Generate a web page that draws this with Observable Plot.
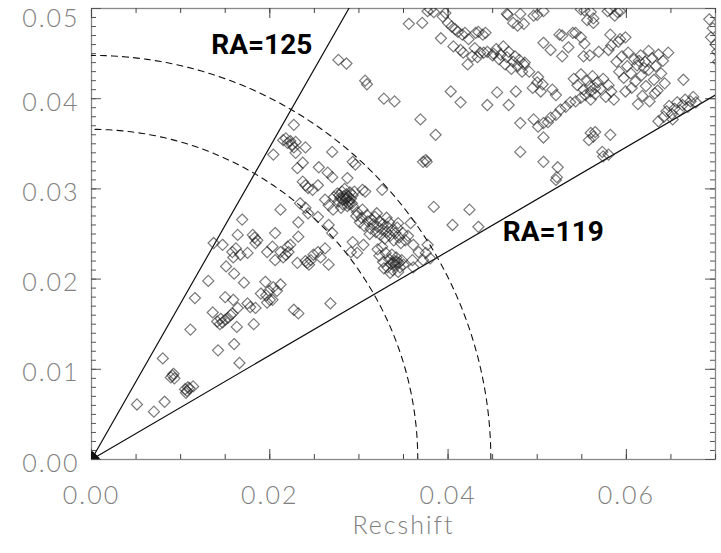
<!DOCTYPE html>
<html><head><meta charset="utf-8">
<script src="https://cdn.jsdelivr.net/npm/d3@7"></script>
<script src="https://cdn.jsdelivr.net/npm/@observablehq/plot@0.6"></script>
<style>body{margin:0;background:#fff} .thin text{letter-spacing:2px}</style>
</head><body><div id="chart"></div>
<script>
// galaxy positions [x, y] in redshift units
const originGroup = [[0.0001,0.0002],[0.0002,0.0001],[0.0001,0.0001]];
const nearGroup = [
[0.0051,0.0061],[0.0070,0.0053],[0.0082,0.0064],[0.0080,0.0112],
[0.0089,0.0091],[0.0091,0.0093],[0.0093,0.0090],[0.0092,0.0095],
[0.0105,0.0078],[0.0107,0.0076],[0.0108,0.0080],[0.0106,0.0074],[0.0110,0.0079],[0.0114,0.0081],
[0.0111,0.0144],[0.0116,0.0179],[0.0131,0.0198],[0.0142,0.0121],[0.0160,0.0128],[0.0166,0.0107],
[0.0136,0.0163],[0.0141,0.0153],[0.0144,0.0150],[0.0147,0.0152],[0.0150,0.0155],[0.0153,0.0157],[0.0156,0.0160],[0.0158,0.0162],[0.0145,0.0156],
[0.0163,0.0147],[0.0182,0.0150],[0.0150,0.0180],[0.0159,0.0177],[0.0164,0.0168],[0.0171,0.0196],[0.0160,0.0206],[0.0151,0.0214],
[0.0175,0.0173],[0.0178,0.0169],[0.0184,0.0168],[0.0195,0.0197],[0.0190,0.0184],[0.0197,0.0174],[0.0203,0.0177],[0.0204,0.0191],[0.0199,0.0187],
[0.0212,0.0194],[0.0208,0.0187],[0.0196,0.0182],[0.0200,0.0177],
[0.0206,0.0221],[0.0167,0.0227],[0.0175,0.0229],[0.0158,0.0230],[0.0162,0.0234],
[0.0137,0.0240],[0.0147,0.0238],[0.0164,0.0249],[0.0181,0.0249],[0.0186,0.0243],[0.0184,0.0240],[0.0183,0.0246],[0.0169,0.0266],[0.0206,0.0251],
[0.0212,0.0230],[0.0215,0.0224],[0.0220,0.0236],[0.0223,0.0238],[0.0221,0.0230],[0.0218,0.0227],
[0.0231,0.0218],[0.0242,0.0218],[0.0246,0.0221],[0.0249,0.0227],[0.0254,0.0230],[0.0257,0.0224],[0.0244,0.0216],[0.0240,0.0220],
[0.0262,0.0234],[0.0266,0.0216],[0.0232,0.0247],[0.0203,0.0236],[0.0197,0.0230],[0.0159,0.0224],
[0.0268,0.0173],[0.0227,0.0166],[0.0232,0.0162]
];
const wallGroup = [
[0.0227,0.0371],[0.0215,0.0354],[0.0218,0.0356],[0.0220,0.0351],[0.0223,0.0353],[0.0225,0.0349],[0.0229,0.0352],[0.0227,0.0346],
[0.0240,0.0346],[0.0204,0.0338],[0.0229,0.0340],[0.0270,0.0341],[0.0237,0.0329],[0.0255,0.0324],[0.0231,0.0323],
[0.0293,0.0330],[0.0296,0.0327],[0.0265,0.0318],[0.0270,0.0313],
[0.0237,0.0308],[0.0240,0.0304],[0.0243,0.0301],[0.0248,0.0299],[0.0254,0.0304],[0.0287,0.0312],
[0.0272,0.0291],[0.0276,0.0295],[0.0277,0.0286],[0.0279,0.0290],[0.0281,0.0297],[0.0282,0.0283],[0.0283,0.0292],[0.0285,0.0288],[0.0286,0.0294],[0.0287,0.0281],
[0.0288,0.0291],[0.0289,0.0286],[0.0290,0.0296],[0.0291,0.0289],[0.0292,0.0284],[0.0293,0.0293],[0.0280,0.0279],[0.0284,0.0300],[0.0295,0.0297],[0.0278,0.0293],
[0.0286,0.0290],[0.0289,0.0283],[0.0282,0.0288],
[0.0304,0.0299],[0.0307,0.0297],[0.0326,0.0299],[0.0262,0.0288],[0.0266,0.0282],[0.0271,0.0277],
[0.0294,0.0280],[0.0298,0.0274],[0.0304,0.0277],[0.0212,0.0277],[0.0234,0.0284],[0.0240,0.0279],[0.0243,0.0273],[0.0254,0.0269],[0.0232,0.0263],[0.0266,0.0260],[0.0270,0.0251],
[0.0297,0.0270],[0.0301,0.0263],[0.0303,0.0268],[0.0306,0.0259],[0.0309,0.0271],[0.0310,0.0264],[0.0313,0.0256],[0.0314,0.0266],[0.0316,0.0261],[0.0318,0.0269],
[0.0319,0.0252],[0.0321,0.0258],[0.0323,0.0264],[0.0324,0.0249],[0.0326,0.0255],[0.0327,0.0261],[0.0329,0.0245],[0.0331,0.0252],[0.0332,0.0258],[0.0334,0.0263],
[0.0335,0.0248],[0.0337,0.0254],[0.0339,0.0243],[0.0341,0.0251],[0.0343,0.0257],[0.0345,0.0246],[0.0347,0.0240],[0.0349,0.0251],[0.0352,0.0243],[0.0355,0.0248],
[0.0320,0.0273],[0.0331,0.0268],[0.0344,0.0262],[0.0312,0.0250],
[0.0358,0.0262],[0.0293,0.0241],[0.0305,0.0238],[0.0321,0.0233],[0.0326,0.0236],
[0.0323,0.0226],[0.0327,0.0219],[0.0330,0.0229],[0.0332,0.0213],[0.0334,0.0222],[0.0336,0.0217],[0.0337,0.0227],[0.0338,0.0210],[0.0340,0.0220],[0.0341,0.0215],
[0.0342,0.0224],[0.0344,0.0208],[0.0345,0.0218],[0.0346,0.0213],[0.0348,0.0221],[0.0339,0.0218],[0.0343,0.0219],[0.0335,0.0207],[0.0328,0.0212],[0.0350,0.0216],
[0.0361,0.0238],[0.0367,0.0230],[0.0375,0.0229],[0.0377,0.0238],[0.0380,0.0223],[0.0372,0.0221],[0.0360,0.0221],[0.0361,0.0213],[0.0291,0.0230],[0.0298,0.0229],
[0.0369,0.0377],[0.0386,0.0360],[0.0375,0.0332],[0.0376,0.0330],[0.0384,0.0280],
[0.0277,0.0443],[0.0286,0.0439],[0.0307,0.0420],[0.0309,0.0416],[0.0328,0.0400],[0.0340,0.0397],[0.0405,0.0260],[0.0424,0.0277],[0.0434,0.0258]
];
const farGroup = [
[0.0356,0.0483],[0.0371,0.0484],[0.0377,0.0497],[0.0380,0.0499],[0.0384,0.0496],[0.0392,0.0467],
[0.0394,0.0491],[0.0397,0.0495],[0.0400,0.0484],[0.0404,0.0480],[0.0408,0.0477],[0.0411,0.0474],[0.0416,0.0471],[0.0419,0.0473],[0.0423,0.0466],
[0.0406,0.0458],[0.0414,0.0454],[0.0417,0.0451],[0.0430,0.0456],[0.0440,0.0451],[0.0450,0.0448],
[0.0431,0.0473],[0.0434,0.0474],[0.0439,0.0471],[0.0442,0.0473],
[0.0422,0.0438],[0.0427,0.0447],[0.0433,0.0446],[0.0436,0.0451],[0.0444,0.0452],
[0.0451,0.0450],[0.0454,0.0455],[0.0457,0.0444],[0.0459,0.0449],[0.0462,0.0458],[0.0464,0.0438],[0.0466,0.0446],[0.0468,0.0452],[0.0471,0.0433],[0.0473,0.0441],
[0.0475,0.0447],[0.0478,0.0436],[0.0480,0.0443],[0.0483,0.0430],[0.0485,0.0438],[0.0491,0.0430],[0.0486,0.0440],[0.0501,0.0424],
[0.0403,0.0408],[0.0414,0.0396],[0.0372,0.0330],
[0.0444,0.0393],[0.0455,0.0407],[0.0468,0.0393],[0.0476,0.0408],[0.0481,0.0373],[0.0481,0.0341],
[0.0507,0.0330],[0.0523,0.0324],[0.0521,0.0310],[0.0522,0.0313],
[0.0495,0.0412],[0.0500,0.0418],[0.0506,0.0416],[0.0504,0.0408],[0.0517,0.0410],[0.0521,0.0404],
[0.0496,0.0377],[0.0501,0.0369],[0.0507,0.0373],[0.0512,0.0374],[0.0515,0.0379],[0.0521,0.0382],[0.0526,0.0388],[0.0532,0.0391],[0.0537,0.0396],[0.0543,0.0397],
[0.0549,0.0401],[0.0554,0.0404],[0.0560,0.0408],[0.0565,0.0412],[0.0507,0.0357],
[0.0541,0.0422],[0.0545,0.0415],[0.0549,0.0427],[0.0552,0.0410],[0.0556,0.0420],[0.0559,0.0414],[0.0562,0.0425],[0.0565,0.0405],[0.0568,0.0418],[0.0571,0.0411],
[0.0574,0.0422],[0.0577,0.0402],[0.0580,0.0415],[0.0583,0.0408],[0.0586,0.0399],[0.0560,0.0399],
[0.0507,0.0462],[0.0515,0.0454],[0.0528,0.0470],[0.0543,0.0473],[0.0549,0.0468],[0.0535,0.0457],[0.0528,0.0447],[0.0552,0.0447],
[0.0525,0.0471],[0.0540,0.0473],[0.0553,0.0461],[0.0559,0.0448],[0.0583,0.0459],[0.0591,0.0463],
[0.0569,0.0452],[0.0580,0.0454],[0.0582,0.0471],[0.0593,0.0466],[0.0599,0.0468],
[0.0589,0.0441],[0.0592,0.0430],[0.0595,0.0447],[0.0597,0.0423],[0.0601,0.0436],[0.0602,0.0451],[0.0605,0.0428],[0.0609,0.0444],[0.0610,0.0419],[0.0612,0.0437],
[0.0616,0.0448],[0.0617,0.0426],[0.0621,0.0441],[0.0622,0.0414],[0.0625,0.0453],[0.0625,0.0432],[0.0629,0.0445],[0.0631,0.0421],[0.0633,0.0436],[0.0635,0.0409],
[0.0636,0.0449],[0.0639,0.0428],[0.0641,0.0442],[0.0643,0.0417],[0.0606,0.0412],[0.0618,0.0403],[0.0626,0.0397],[0.0613,0.0394],[0.0632,0.0406],[0.0599,0.0408],
[0.0620,0.0434],[0.0614,0.0442],
[0.0647,0.0451],[0.0664,0.0421],
[0.0642,0.0380],[0.0645,0.0386],[0.0648,0.0392],[0.0651,0.0383],[0.0654,0.0389],[0.0657,0.0396],[0.0660,0.0387],[0.0663,0.0393],[0.0666,0.0399],[0.0669,0.0391],
[0.0672,0.0397],[0.0675,0.0402],[0.0678,0.0396],[0.0652,0.0377],[0.0636,0.0375],
[0.0560,0.0362],[0.0558,0.0354],[0.0563,0.0358],[0.0565,0.0363],[0.0582,0.0360],
[0.0573,0.0341],[0.0580,0.0338],[0.0574,0.0336],
[0.0466,0.0494],[0.0481,0.0494],[0.0496,0.0492],[0.0507,0.0497],[0.0553,0.0498],[0.0563,0.0489],[0.0579,0.0497],[0.0587,0.0492],
[0.0467,0.0493],[0.0473,0.0484],[0.0478,0.0481],[0.0485,0.0483],[0.0500,0.0493],
[0.0549,0.0499],[0.0560,0.0496],[0.0556,0.0487],[0.0563,0.0484],[0.0582,0.0499],[0.0590,0.0496],[0.0593,0.0497],
[0.0693,0.0488],[0.0697,0.0478],[0.0695,0.0468],[0.0700,0.0460],[0.0702,0.0452],[0.0703,0.0441]
];

const wedgeAngles = [60, 30];
const wedgeLabels = ["RA=125", "RA=119"];
const wedgeLabelX = [0.0191, 0.0518];
const wedgeLabelY = [0.0459, 0.0252];
const shellRadii = [0.0366, 0.0448];

const xMajorTicks = [0, 0.02, 0.04, 0.06];
const yMajorTicks = [0, 0.01, 0.02, 0.03, 0.04, 0.05];
const xTitle = "Recshift";

const xMinorTicks = d3.range(0, 0.07001, 0.005);
const yMinorTicks = d3.range(0, 0.05001, 0.001);

const galaxies = [...nearGroup, ...wallGroup, ...farGroup];
const rays = wedgeAngles.map(a => [[0, 0], [0.2 * Math.cos(a * Math.PI / 180), 0.2 * Math.sin(a * Math.PI / 180)]]);
const arcs = shellRadii.flatMap((r, i) => d3.range(0, 90.5, 1).map(t => ({i, x: r * Math.cos(t * Math.PI / 180), y: r * Math.sin(t * Math.PI / 180)})));

const dxMaj = 0.00112, dxMin = 0.00056, dyMaj = 0.00111, dyMin = 0.00055;
const labelFont = {fontFamily: "Lato", fontWeight: 300, fontSize: 25, fill: "#808080", className: "thin"};

const chart = Plot.plot({
  width: 721, height: 553,
  marginLeft: 91, marginRight: 6, marginTop: 8, marginBottom: 94,
  x: {domain: [0, 0.07], axis: null},
  y: {domain: [0, 0.05], axis: null},
  marks: [
    Plot.frame({stroke: "#888", strokeWidth: 1.3}),
    Plot.ruleX(xMinorTicks, {x: d => d, y1: 0, y2: dyMin, stroke: "#444"}),
    Plot.ruleX(xMajorTicks, {x: d => d, y1: 0, y2: dyMaj, stroke: "#444"}),
    Plot.ruleX(xMinorTicks, {x: d => d, y1: 0.05, y2: 0.05 - dyMin, stroke: "#444"}),
    Plot.ruleX(xMajorTicks, {x: d => d, y1: 0.05, y2: 0.05 - dyMaj, stroke: "#444"}),
    Plot.ruleY(yMinorTicks, {y: d => d, x1: 0, x2: dxMin, stroke: "#555"}),
    Plot.ruleY(yMajorTicks, {y: d => d, x1: 0, x2: dxMaj, stroke: "#555"}),
    Plot.ruleY(yMinorTicks, {y: d => d, x1: 0.07, x2: 0.07 - dxMin, stroke: "#555"}),
    Plot.ruleY(yMajorTicks, {y: d => d, x1: 0.07, x2: 0.07 - dxMaj, stroke: "#555"}),
    Plot.line(arcs, {x: "x", y: "y", z: "i", stroke: "#111", strokeWidth: 1.1, strokeDasharray: "6,5", clip: true}),
    ...rays.map(r => Plot.line(r, {stroke: "#111", strokeWidth: 1.2, clip: true})),
    Plot.dot(originGroup, {x: d => d[0], y: d => d[1], symbol: "diamond2", r: 5, fill: "#111", stroke: "#111", clip: true}),
    Plot.dot(galaxies, {x: d => d[0], y: d => d[1], symbol: "diamond2", r: 5, stroke: "#222", strokeOpacity: 0.6, strokeWidth: 1.2, fill: "none", clip: true}),
    Plot.text(wedgeLabels, {x: (d, i) => wedgeLabelX[i], y: (d, i) => wedgeLabelY[i], text: d => d, fontFamily: "Roboto", fontWeight: "bold", fontSize: 28, fill: "#000"}),
    Plot.text(xMajorTicks, {x: d => d, y: 0, text: d => d.toFixed(2), dy: 36, ...labelFont}),
    Plot.text(yMajorTicks.filter(d => d < 0.05), {x: 0, y: d => d, text: d => d.toFixed(2), textAnchor: "end", dx: -12, dy: 4, ...labelFont}),
    Plot.text(yMajorTicks.filter(d => d >= 0.05), {x: 0, y: d => d, text: d => d.toFixed(2), textAnchor: "end", dx: -12, dy: 10, ...labelFont}),
    Plot.text([xTitle], {frameAnchor: "bottom", text: d => d, dy: 74, ...labelFont})
  ]
});
document.getElementById("chart").appendChild(chart);
</script>
</body></html>
